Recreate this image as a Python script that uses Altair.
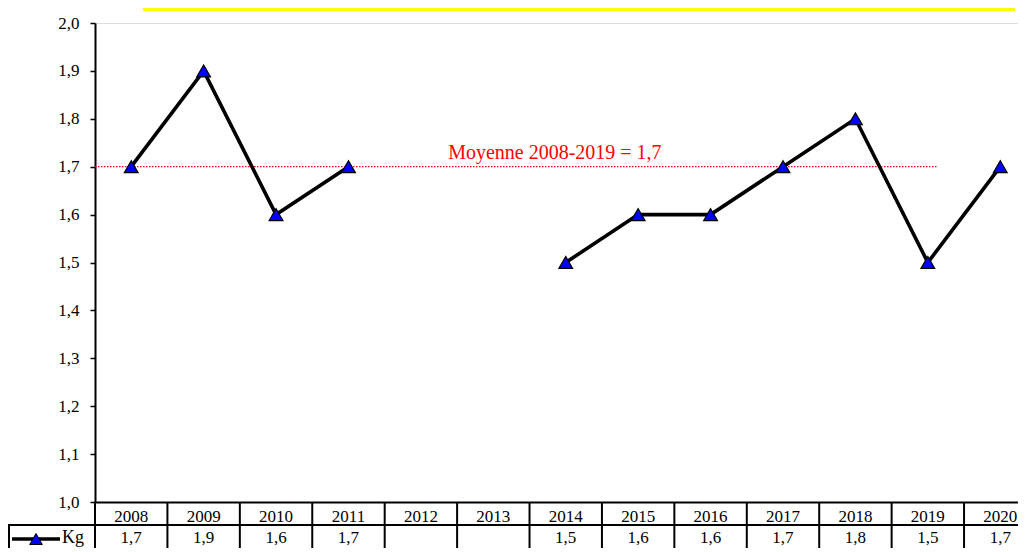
import altair as alt
import pandas as pd

# ---- data ----
years = [2008, 2009, 2010, 2011, 2012, 2013, 2014, 2015, 2016, 2017, 2018, 2019, 2020]
kg = [1.7, 1.9, 1.6, 1.7, None, None, 1.5, 1.6, 1.6, 1.7, 1.8, 1.5, 1.7]
y_ticks = [1.0, 1.1, 1.2, 1.3, 1.4, 1.5, 1.6, 1.7, 1.8, 1.9, 2.0]
mean_value = 1.7
mean_label = "Moyenne 2008-2019 = 1,7"
mean_start, mean_end = 2007.5, 2019.14
mean_label_x = 2013.85
series_name = "Kg"

FONT = "Liberation Serif"
W, H = 923, 479
X_DOMAIN = [2007.5, 2020.245]
BOTTOM = 525  # bottom of the table (plot coordinates)

# series split into continuous segments (gaps where no value)
seg, s, prev = [], 0, True
for v in kg:
    if v is None and prev:
        s += 1
    prev = v is not None
    seg.append(s)
df = pd.DataFrame({"year": years, "kg": kg, "seg": seg})
df_valid = df.dropna()

xs = alt.Scale(domain=X_DOMAIN, nice=False, zero=False)
ys = alt.Scale(domain=[1.0, 2.0], nice=False, zero=False)

x_enc = alt.X("year:Q", scale=xs,
              axis=alt.Axis(labels=False, ticks=False, grid=False, title=None,
                            domainColor="black", domainWidth=2))
y_enc = alt.Y("kg:Q", scale=ys,
              axis=alt.Axis(values=y_ticks, grid=False, title=None,
                            domainColor="black", domainWidth=2,
                            tickColor="black", tickWidth=1.5, tickSize=5,
                            labelPadding=11, labelFont=FONT, labelFontSize=17,
                            labelColor="black",
                            labelExpr="replace(format(datum.value, '.1f'), '.', ',')"))

line = alt.Chart(df_valid).mark_line(color="black", strokeWidth=3.6).encode(
    x=x_enc, y=y_enc, detail="seg:N")

points = alt.Chart(df_valid).mark_point(
    shape="triangle-up", filled=True, fill="#0000FF", stroke="black",
    strokeWidth=1.2, size=190, opacity=1).encode(
    x=alt.X("year:Q", scale=xs), y=alt.Y("kg:Q", scale=ys))

mean_df = pd.DataFrame({"x": [mean_start], "x2": [mean_end], "y": [mean_value],
                        "lx": [mean_label_x], "label": [mean_label]})
mean_rule = alt.Chart(mean_df).mark_rule(color="red", strokeWidth=1.2,
                                         strokeDash=[1.5, 1.5]).encode(
    x=alt.X("x:Q", scale=xs), x2="x2:Q", y=alt.Y("y:Q", scale=ys))
mean_text = alt.Chart(mean_df).mark_text(
    color="red", font=FONT, fontSize=20, baseline="alphabetic", dy=-8).encode(
    x=alt.X("lx:Q", scale=xs), y=alt.Y("y:Q", scale=ys), text="label:N")

# ---- data table below the plot ----
tab_df = pd.DataFrame({
    "year": years,
    "ylab": [str(y) for y in years],
    "vlab": ["" if v is None else f"{v:.1f}".replace(".", ",") for v in kg],
})
year_text = alt.Chart(tab_df).mark_text(
    font=FONT, fontSize=17, color="black", baseline="alphabetic").encode(
    x=alt.X("year:Q", scale=xs), y=alt.value(H + 20), text="ylab:N")
val_text = alt.Chart(tab_df).mark_text(
    font=FONT, fontSize=17, color="black", baseline="alphabetic").encode(
    x=alt.X("year:Q", scale=xs), y=alt.value(H + 41), text="vlab:N")

bounds_df = pd.DataFrame({"b": [X_DOMAIN[0]] + [y + 0.5 for y in years[:-1]]})
vlines = alt.Chart(bounds_df).mark_rule(color="black", strokeWidth=2).encode(
    x=alt.X("b:Q", scale=xs), y=alt.value(H), y2=alt.value(BOTTOM))

hline = alt.Chart(bounds_df.head(1)).mark_rule(color="black", strokeWidth=2).encode(
    x=alt.value(-87), x2=alt.value(W), y=alt.value(H + 23))
cell_left = alt.Chart(bounds_df.head(1)).mark_rule(color="black", strokeWidth=2).encode(
    x=alt.value(-86), y=alt.value(H + 23), y2=alt.value(BOTTOM))

leg_line = alt.Chart(bounds_df.head(1)).mark_rule(color="black", strokeWidth=3.6).encode(
    x=alt.value(-83), x2=alt.value(-35), y=alt.value(H + 37))
leg_tri = alt.Chart(bounds_df.head(1)).mark_point(
    shape="triangle-up", filled=True, fill="#0000FF", stroke="black",
    strokeWidth=1, size=160, opacity=1).encode(
    x=alt.value(-59), y=alt.value(H + 37))
leg_text = alt.Chart(pd.DataFrame({"t": [series_name]})).mark_text(
    font=FONT, fontSize=18, color="black", align="left", baseline="alphabetic").encode(
    x=alt.value(-33), y=alt.value(H + 41), text="t:N")

yellow = alt.Chart(bounds_df.head(1)).mark_rule(color="#FFFF00", strokeWidth=3).encode(
    x=alt.value(48), x2=alt.value(920), y=alt.value(-13.5))

chart = alt.layer(
    yellow, vlines, hline, cell_left, mean_rule, mean_text, line, points,
    year_text, val_text, leg_line, leg_tri, leg_text
).properties(
    width=W, height=H,
    autosize=alt.AutoSizeParams(type="none"),
    padding={"left": 87, "top": 15, "right": 0, "bottom": 46},
).configure_view(stroke=None).configure(background="white")

chart.save("out.html", embed_options={"renderer": "svg", "actions": False})
